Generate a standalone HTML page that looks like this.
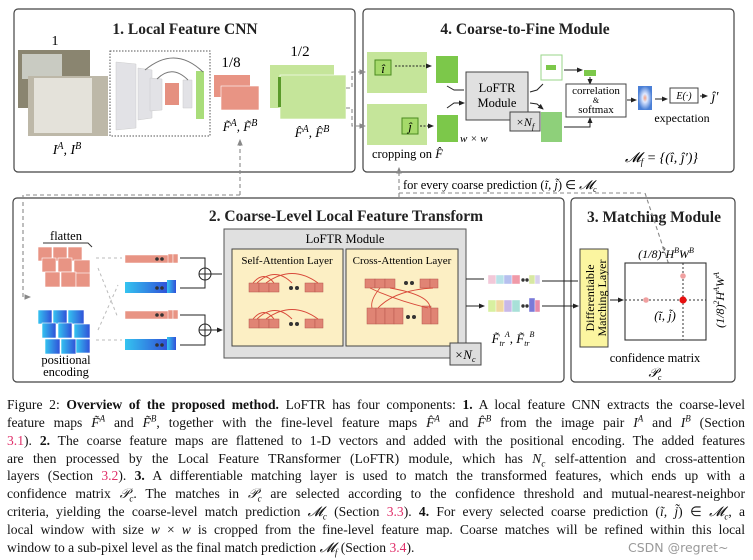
<!DOCTYPE html>
<html><head><meta charset="utf-8"><style>
body{margin:0;background:#fff;width:753px;height:560px;overflow:hidden;position:relative;font-family:"Liberation Serif",serif;}
svg{position:absolute;left:0;top:0}
.cap{position:absolute;left:7px;width:738px;font-size:13.6px;line-height:17.75px;color:#111;text-align:justify;text-align-last:justify;white-space:nowrap}
.r{color:#e0306a}
i{font-style:italic}
sup,sub{font-size:9px;line-height:0}
</style></head><body>
<svg width="753" height="395" viewBox="0 0 753 395" font-family="Liberation Serif, serif">
<defs>
<marker id="a" markerWidth="6" markerHeight="6" refX="5" refY="3" orient="auto"><path d="M0,0.5 L6,3 L0,5.5z" fill="#222"/></marker>
<marker id="g" markerWidth="6" markerHeight="6" refX="5" refY="3" orient="auto"><path d="M0,0.5 L6,3 L0,5.5z" fill="#888"/></marker>
<radialGradient id="hm"><stop offset="0" stop-color="#f6a080"/><stop offset=".35" stop-color="#dfe8ff"/><stop offset="1" stop-color="#4a7fd6"/></radialGradient>
<linearGradient id="bl" x1="0" x2="1"><stop offset="0" stop-color="#34c4f0"/><stop offset="1" stop-color="#3050d8"/></linearGradient>
</defs>
<g fill="none" stroke="#444" stroke-width="1.2">
<rect x="14" y="9" width="341" height="163" rx="4"/>
<rect x="363" y="9" width="371" height="163" rx="4"/>
<rect x="13" y="198" width="551" height="184" rx="4"/>
<rect x="571" y="198" width="164" height="184" rx="4"/>
</g>
<g font-weight="bold" font-size="15.5" fill="#222" text-anchor="middle">
<text x="185" y="34">1. Local Feature CNN</text>
<text x="525" y="34">4. Coarse-to-Fine Module</text>
<text x="346" y="221">2. Coarse-Level Local Feature Transform</text>
<text x="654" y="222">3. Matching Module</text>
</g>
<rect x="18" y="50" width="72" height="58" fill="#8a8570"/>
<rect x="22" y="54" width="40" height="25" fill="#c9cbc2"/>
<rect x="28" y="76" width="80" height="60" fill="#bdb8a8"/>
<rect x="34" y="78" width="58" height="55" fill="#e4e2da"/>
<text x="55" y="45" font-size="14" text-anchor="middle">1</text>
<text x="67" y="154" font-size="14" text-anchor="middle" font-style="italic">I<tspan dy="-5" font-size="10">A</tspan><tspan dy="5">, I</tspan><tspan dy="-5" font-size="10">B</tspan></text>
<rect x="110" y="51" width="100" height="85" fill="none" stroke="#555" stroke-dasharray="1.5,1.5"/>
<g fill="#e2e2e6" stroke="#ccc" stroke-width=".5">
<path d="M116,62 L136,64 L136,128 L116,130z"/><path d="M138,68 L152,70 L152,118 L138,120z"/>
<path d="M150,78 L162,79 L162,110 L150,111z"/><path d="M183,80 L192,80 L192,108 L183,108z"/></g>
<rect x="165" y="83" width="14" height="22" fill="#e59080"/>
<rect x="196" y="71" width="8" height="48" fill="#a9dd7a"/>
<path d="M145,70 Q175,45 203,72 M157,79 Q172,64 188,80" fill="none" stroke="#777" stroke-width="1"/>
<text x="231" y="67" font-size="15" text-anchor="middle">1/8</text>
<rect x="214" y="75" width="36" height="22" fill="#e89484"/>
<rect x="221" y="86" width="38" height="24" fill="#e89484" stroke="#fff" stroke-width=".6"/>
<text x="240" y="131" font-size="13" text-anchor="middle" font-style="italic">F̃<tspan dy="-5" font-size="10">A</tspan><tspan dy="5">, F̃</tspan><tspan dy="-5" font-size="10">B</tspan></text>
<text x="300" y="56" font-size="15" text-anchor="middle">1/2</text>
<rect x="270" y="65" width="64" height="43" fill="#c5e59a"/>
<rect x="280" y="75" width="66" height="44" fill="#c5e59a" stroke="#fff" stroke-width=".6"/>
<rect x="278" y="77" width="3" height="30" fill="#5a9a2a"/>
<text x="312" y="137" font-size="13" text-anchor="middle" font-style="italic">F̂<tspan dy="-5" font-size="10">A</tspan><tspan dy="5">, F̂</tspan><tspan dy="-5" font-size="10">B</tspan></text>
<g fill="none" stroke="#888" stroke-dasharray="4,3" stroke-width="1.1">
<path d="M346,88 H352 V72 H365" marker-end="url(#g)"/>
<path d="M346,108 H352 V126 H365" marker-end="url(#g)"/>
<path d="M240,195 V140" marker-end="url(#g)"/>
<path d="M240,195 H23 V297 H30" marker-end="url(#g)"/>
<path d="M399,197 V168" marker-end="url(#g)"/>
<path d="M399,193 H644"/>
<path d="M645,193 L679,295" marker-end="url(#g)"/>
</g>
<rect x="367" y="52" width="60" height="41" fill="#c5e59a"/>
<rect x="367" y="104" width="60" height="41" fill="#c5e59a"/>
<rect x="375" y="60" width="16" height="15" fill="#a6da6a" stroke="#4a8a20"/>
<rect x="402" y="118" width="16" height="16" fill="#a6da6a" stroke="#4a8a20"/>
<text x="383" y="73" font-size="13" font-style="italic" text-anchor="middle">î</text>
<text x="410" y="131" font-size="13" font-style="italic" text-anchor="middle">ĵ</text>
<path d="M395,66 H431" stroke="#222" stroke-dasharray="2,1.5" marker-end="url(#a)"/>
<path d="M420,126 H433" stroke="#222" stroke-dasharray="2,1.5" marker-end="url(#a)"/>
<rect x="436" y="56" width="22" height="27" fill="#7cc84a"/>
<rect x="437" y="115" width="21" height="27" fill="#7cc84a"/>
<text x="460" y="142" font-size="11" font-style="italic">w × w</text>
<path d="M447,86 L454,90 L464,90 M447,108 L454,103 L464,103" fill="none" stroke="#222" marker-end="url(#a)"/>
<rect x="466" y="72" width="62" height="48" fill="#e0e0e0" stroke="#444"/>
<text x="497" y="92" font-size="12.5" text-anchor="middle">LoFTR</text>
<text x="497" y="107" font-size="12.5" text-anchor="middle">Module</text>
<rect x="510" y="112" width="30" height="19" fill="#ddd" stroke="#444"/>
<text x="525" y="126" font-size="12" text-anchor="middle" font-style="italic">×N<tspan font-size="8" dy="3">f</tspan></text>
<path d="M530,92 L537,90 L543,84 M530,103 L537,104 L543,109" fill="none" stroke="#222" marker-end="url(#a)"/>
<rect x="541" y="55" width="21" height="25" fill="#fff" stroke="#9ad58a"/>
<rect x="546" y="65" width="10" height="5" fill="#7cc84a"/>
<rect x="541" y="112" width="21" height="30" fill="#8ed07a"/>
<path d="M564,70 H582" stroke="#222" marker-end="url(#a)"/>
<rect x="584" y="70" width="12" height="6" fill="#7cc84a"/>
<path d="M590,77 V84" stroke="#222" marker-end="url(#a)"/>
<path d="M564,127 H590 V118" fill="none" stroke="#222" marker-end="url(#a)"/>
<rect x="566" y="84" width="60" height="33" fill="#fff" stroke="#444"/>
<text x="596" y="94" font-size="11" text-anchor="middle">correlation</text>
<text x="596" y="103" font-size="8" text-anchor="middle">&amp;</text>
<text x="596" y="113" font-size="11" text-anchor="middle">softmax</text>
<path d="M627,100 H636" stroke="#222" marker-end="url(#a)"/>
<rect x="638" y="86" width="14" height="24" fill="url(#hm)"/>
<path d="M655,99 H667" stroke="#222" marker-end="url(#a)"/>
<rect x="670" y="88" width="28" height="15" fill="#fff" stroke="#444"/>
<text x="684" y="99" font-size="10" text-anchor="middle" font-style="italic">E(·)</text>
<path d="M700,96 H707" stroke="#222" marker-end="url(#a)"/>
<text x="715" y="101" font-size="14" font-style="italic" text-anchor="middle">ĵ′</text>
<text x="682" y="122" font-size="12" text-anchor="middle">expectation</text>
<text x="372" y="158" font-size="12.5">cropping on <tspan font-style="italic">F̂</tspan></text>
<text x="625" y="162" font-size="14" font-style="italic">𝓜<tspan font-size="9" dy="3">f</tspan><tspan dy="-3"> = {(î, ĵ′)}</tspan></text>
<text x="403" y="189" font-size="12.5">for every coarse prediction (<tspan font-style="italic">ĩ, j̃</tspan>) ∈ <tspan font-style="italic">𝓜</tspan><tspan font-size="8" dy="3" font-style="italic">c</tspan></text>
<text x="66" y="240" font-size="12.5" text-anchor="middle">flatten</text>
<path d="M43,243 H88 L92,247" fill="none" stroke="#333"/>
<g fill="#e89484" stroke="#fff" stroke-width=".6">
<rect x="38" y="247" width="14" height="14"/><rect x="53" y="247" width="14" height="14"/><rect x="68" y="247" width="14" height="14"/>
<rect x="42" y="258" width="14" height="14"/><rect x="58" y="258" width="14" height="14"/><rect x="74" y="260" width="16" height="14"/>
<rect x="45" y="272" width="15" height="15"/><rect x="61" y="272" width="15" height="15"/><rect x="76" y="273" width="14" height="14"/></g>
<g fill="url(#bl)" stroke="#fff" stroke-width=".6">
<rect x="38" y="310" width="14" height="14"/><rect x="53" y="310" width="14" height="14"/><rect x="68" y="310" width="16" height="14"/>
<rect x="42" y="323" width="14" height="15"/><rect x="58" y="323" width="14" height="15"/><rect x="74" y="324" width="16" height="14"/>
<rect x="45" y="339" width="15" height="15"/><rect x="61" y="339" width="15" height="15"/><rect x="76" y="339" width="14" height="14"/></g>
<text x="66" y="364" font-size="12.5" text-anchor="middle">positional</text>
<text x="66" y="376" font-size="12.5" text-anchor="middle">encoding</text>
<g stroke="#bbb" stroke-dasharray="3,3" fill="none"><path d="M96,258 H122 M96,340 H122 M98,268 L118,318 M98,330 L118,285"/></g>
<g fill="#e89484" stroke="#fff" stroke-width=".5">
<rect x="125" y="255" width="44" height="8"/><rect x="125" y="311" width="44" height="8"/>
<rect x="168" y="254" width="5" height="9"/><rect x="173" y="254" width="5" height="9"/>
<rect x="168" y="310" width="5" height="9"/><rect x="173" y="310" width="5" height="9"/></g>
<g fill="url(#bl)"><rect x="125" y="282" width="43" height="11"/><rect x="125" y="339" width="43" height="11"/>
<rect x="167" y="280" width="9" height="13"/><rect x="167" y="337" width="9" height="13"/></g>
<g fill="#333"><circle cx="157" cy="259" r="1.8"/><circle cx="162" cy="259" r="1.8"/><circle cx="157" cy="288" r="1.8"/><circle cx="162" cy="288" r="1.8"/><circle cx="157" cy="315" r="1.8"/><circle cx="162" cy="315" r="1.8"/><circle cx="157" cy="345" r="1.8"/><circle cx="162" cy="345" r="1.8"/></g>
<g fill="none" stroke="#222" stroke-width="1">
<path d="M180,258 H205 V268 M180,288 H205 V280 M180,315 H205 V324 M180,345 H205 V336"/>
<circle cx="205" cy="274" r="6"/><path d="M199,274 H211 M205,268 V280"/>
<circle cx="205" cy="330" r="6"/><path d="M199,330 H211 M205,324 V336"/>
<path d="M211,274 H222 M211,330 H222" marker-end="url(#a)"/></g>
<rect x="224" y="229" width="242" height="129" fill="#e0e0e0" stroke="#555"/>
<text x="345" y="243" font-size="12.5" text-anchor="middle">LoFTR Module</text>
<rect x="232" y="249" width="111" height="97" fill="#fcefc4" stroke="#444"/>
<rect x="346" y="249" width="112" height="97" fill="#fcefc4" stroke="#444"/>
<text x="287" y="264" font-size="11" text-anchor="middle">Self-Attention Layer</text>
<text x="402" y="264" font-size="11" text-anchor="middle">Cross-Attention Layer</text>
<g fill="#e08474" stroke="#b5574a" stroke-width=".5">
<rect x="249" y="283" width="10" height="9"/><rect x="259" y="283" width="10" height="9"/><rect x="269" y="283" width="10" height="9"/><rect x="305" y="283" width="10" height="9"/><rect x="315" y="283" width="8" height="9"/>
<rect x="249" y="319" width="10" height="9"/><rect x="259" y="319" width="10" height="9"/><rect x="269" y="319" width="10" height="9"/><rect x="305" y="319" width="10" height="9"/><rect x="315" y="319" width="8" height="9"/>
<rect x="365" y="279" width="10" height="9"/><rect x="375" y="279" width="10" height="9"/><rect x="385" y="279" width="10" height="9"/><rect x="420" y="279" width="10" height="9"/><rect x="430" y="279" width="8" height="9"/>
<rect x="367" y="308" width="9" height="16"/><rect x="376" y="308" width="9" height="16"/><rect x="385" y="308" width="9" height="16"/><rect x="394" y="308" width="9" height="16"/><rect x="422" y="306" width="9" height="18"/><rect x="431" y="308" width="7" height="16"/></g>
<g fill="#333"><circle cx="291" cy="288" r="2"/><circle cx="297" cy="288" r="2"/><circle cx="291" cy="324" r="2"/><circle cx="297" cy="324" r="2"/><circle cx="406" cy="283" r="2"/><circle cx="412" cy="283" r="2"/><circle cx="408" cy="317" r="2"/><circle cx="414" cy="317" r="2"/></g>
<g fill="none" stroke="#d84a3a" stroke-width=".9">
<path d="M253,283 Q264,270 274,283 M257,283 Q275,266 292,283 M266,283 Q292,264 318,283"/>
<path d="M253,319 Q264,306 274,319 M257,319 Q275,302 292,319 M266,319 Q292,300 318,319"/>
<path d="M370,288 Q395,300 428,308 M380,288 Q370,300 372,308 M390,288 Q430,295 430,308 M433,288 Q395,290 378,308"/></g>
<rect x="450" y="343" width="31" height="22" fill="#ddd" stroke="#444"/>
<text x="465" y="359" font-size="13" text-anchor="middle" font-style="italic">×N<tspan font-size="8" dy="3">c</tspan></text>
<path d="M466,279 H484 M466,306 H484" stroke="#222" marker-end="url(#a)"/>
<g stroke="#fff" stroke-width=".4"><rect x="488" y="275" width="8" height="9" fill="#f2c8d8"/><rect x="496" y="275" width="8" height="9" fill="#b8e2e8"/><rect x="504" y="275" width="8" height="9" fill="#b6c0ee"/><rect x="512" y="275" width="8" height="9" fill="#f09aa8"/><rect x="529" y="275" width="6" height="9" fill="#d7e8a2"/><rect x="535" y="275" width="5" height="9" fill="#d8d0ee"/>
<rect x="488" y="300" width="8" height="12" fill="#d8f0a0"/><rect x="496" y="300" width="8" height="12" fill="#f0d8a0"/><rect x="504" y="300" width="8" height="12" fill="#c8b8e8"/><rect x="512" y="300" width="8" height="12" fill="#a8e0d8"/><rect x="529" y="298" width="6" height="14" fill="#7a7ad8"/><rect x="535" y="300" width="5" height="12" fill="#e88aa8"/></g>
<g fill="#333"><circle cx="523" cy="280" r="1.7"/><circle cx="527" cy="280" r="1.7"/><circle cx="523" cy="306" r="1.7"/><circle cx="527" cy="306" r="1.7"/></g>
<text x="513" y="343" font-size="13" text-anchor="middle" font-style="italic">F̃<tspan font-size="8" dy="3">tr</tspan><tspan font-size="8" dy="-9">A</tspan><tspan dy="6">, F̃</tspan><tspan font-size="8" dy="3">tr</tspan><tspan font-size="8" dy="-9">B</tspan></text>
<path d="M542,281 H578 M542,306 H578" stroke="#222" marker-end="url(#a)"/>
<rect x="580" y="249" width="28" height="98" fill="#fbf5a0" stroke="#444"/>
<text transform="translate(594,298) rotate(-90)" font-size="12" text-anchor="middle">Differentiable</text>
<text transform="translate(606,298) rotate(-90)" font-size="12" text-anchor="middle">Matching Layer</text>
<path d="M610,300 H623" stroke="#222" marker-end="url(#a)"/>
<rect x="625" y="263" width="81" height="77" fill="#fff" stroke="#333" stroke-width="1.1"/>
<path d="M625,300 H706 M683,263 V340" stroke="#333" stroke-dasharray="2,2"/>
<circle cx="646" cy="300" r="2.8" fill="#f0a0a0"/><circle cx="683" cy="276" r="2.8" fill="#f0a0a0"/><circle cx="683" cy="300" r="3.6" fill="#e81010"/>
<text x="665" y="320" font-size="12.5" text-anchor="middle" font-style="italic">(ĩ, j̃)</text>
<text x="666" y="258" font-size="12" text-anchor="middle" font-style="italic">(1/8)<tspan font-size="8" dy="-5">2</tspan><tspan dy="5">H</tspan><tspan font-size="8" dy="-5">B</tspan><tspan dy="5">W</tspan><tspan font-size="8" dy="-5">B</tspan></text>
<text transform="translate(724,300) rotate(-90)" font-size="12" text-anchor="middle" font-style="italic">(1/8)<tspan font-size="8" dy="-5">2</tspan><tspan dy="5">H</tspan><tspan font-size="8" dy="-5">A</tspan><tspan dy="5">W</tspan><tspan font-size="8" dy="-5">A</tspan></text>
<text x="655" y="362" font-size="12.5" text-anchor="middle">confidence matrix</text>
<text x="655" y="377" font-size="13" text-anchor="middle" font-style="italic">𝒫<tspan font-size="8" dy="3">c</tspan></text>
</svg>
<div class="cap" style="top:396px">Figure 2: <b>Overview of the proposed method.</b> LoFTR has four components: <b>1.</b> A local feature CNN extracts the coarse-level</div>
<div class="cap" style="top:414px">feature maps <i>F̃<sup>A</sup></i> and <i>F̃<sup>B</sup></i>, together with the fine-level feature maps <i>F̂<sup>A</sup></i> and <i>F̂<sup>B</sup></i> from the image pair <i>I<sup>A</sup></i> and <i>I<sup>B</sup></i> (Section</div>
<div class="cap" style="top:432px"><span class="r">3.1</span>). <b>2.</b> The coarse feature maps are flattened to 1-D vectors and added with the positional encoding. The added features</div>
<div class="cap" style="top:450px">are then processed by the Local Feature TRansformer (LoFTR) module, which has <i>N<sub>c</sub></i> self-attention and cross-attention</div>
<div class="cap" style="top:467px">layers (Section <span class="r">3.2</span>). <b>3.</b> A differentiable matching layer is used to match the transformed features, which ends up with a</div>
<div class="cap" style="top:485px">confidence matrix <i>𝒫<sub>c</sub></i>. The matches in <i>𝒫<sub>c</sub></i> are selected according to the confidence threshold and mutual-nearest-neighbor</div>
<div class="cap" style="top:503px">criteria, yielding the coarse-level match prediction <i>𝓜<sub>c</sub></i> (Section <span class="r">3.3</span>). <b>4.</b> For every selected coarse prediction (<i>ĩ, j̃</i>) ∈ <i>𝓜<sub>c</sub></i>, a</div>
<div class="cap" style="top:521px">local window with size <i>w</i> × <i>w</i> is cropped from the fine-level feature map. Coarse matches will be refined within this local</div>
<div class="cap" style="top:539px;text-align-last:left">window to a sub-pixel level as the final match prediction <i>𝓜<sub>f</sub></i> (Section <span class="r">3.4</span>).</div>
<div style="position:absolute;left:628px;top:540px;font-family:'DejaVu Sans',sans-serif;font-size:12.5px;color:#999">CSDN @regret~</div>
</body></html>
